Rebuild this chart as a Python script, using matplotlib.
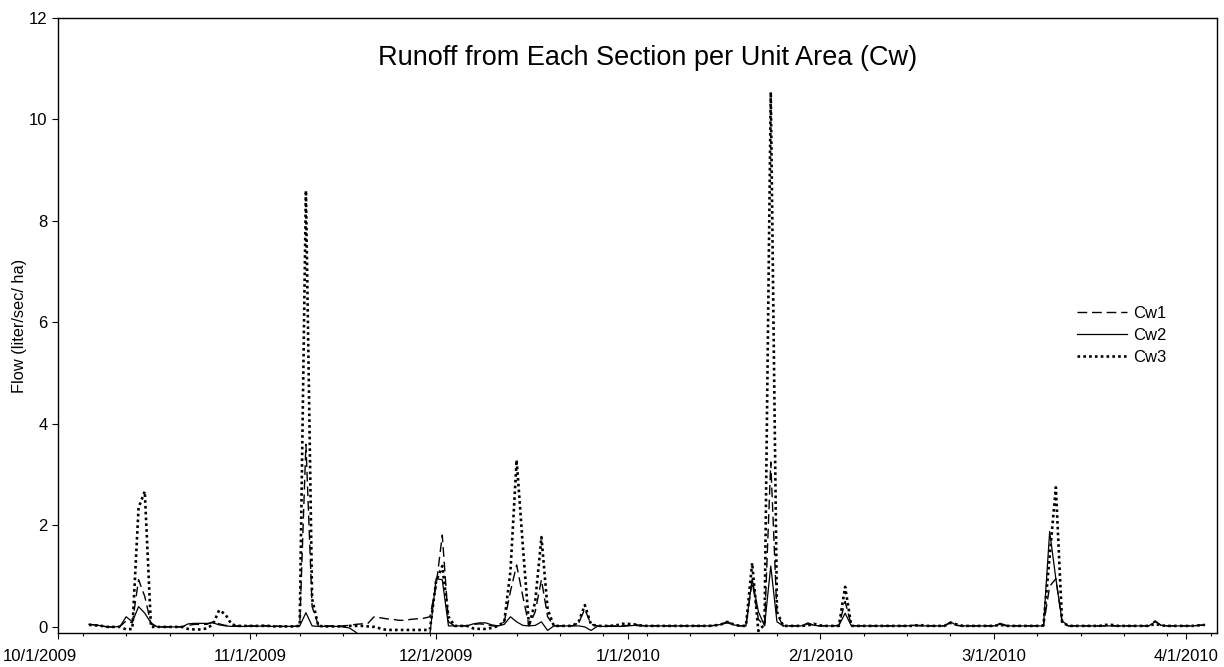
import datetime
import pandas as pd
import matplotlib
matplotlib.use('Agg')
import matplotlib.pyplot as plt
import matplotlib.dates as mdates
import matplotlib.transforms as mtransforms

# daily values, 10/6/2009 - 4/4/2010
start_date = '2009-10-06'
end_date = '2010-04-04'

cw1_oct = [0.05, 0.04, 0.02, 0.0, 0.0, 0.01, 0.12, 0.08, 0.93, 0.6, 0.06, 0.0, 0.0,
           0.0, 0.0, 0.0, 0.03, 0.05, 0.05, 0.05, 0.1, 0.06, 0.03, 0.02, 0.02, 0.01]
cw2_oct = [0.05, 0.04, 0.02, 0.0, 0.0, 0.01, 0.2, 0.1, 0.4, 0.27, 0.08, 0.0, 0.0,
           0.0, 0.0, 0.0, 0.06, 0.07, 0.07, 0.07, 0.08, 0.04, 0.02, 0.01, 0.01, 0.01]
cw3_oct = [0.04, 0.03, 0.02, 0.0, 0.0, 0.0, -0.05, -0.04, 2.35, 2.67, 0.0, 0.0, 0.0,
           0.0, 0.0, 0.0, -0.04, -0.05, -0.05, -0.03, 0.05, 0.33, 0.25, 0.05, 0.02, 0.02]

cw1_nov = [0.02, 0.02, 0.03, 0.02, 0.02, 0.01, 0.01, 0.01, 0.02, 3.6, 0.4, 0.03, 0.02, 0.02, 0.02,
           0.02, 0.03, 0.05, 0.06, 0.07, 0.2, 0.18, 0.16, 0.15, 0.13, 0.13, 0.15, 0.16, 0.17, 0.2]
cw2_nov = [0.02, 0.01, 0.02, 0.01, 0.01, 0.01, 0.01, 0.01, 0.02, 0.28, 0.02, 0.01, 0.01, 0.01, 0.01,
           0.0, -0.02, -0.1, -0.2, -0.2, -0.2, -0.2, -0.2, -0.2, -0.2, -0.2, -0.2, -0.2, -0.2, -0.15]
cw3_nov = [0.02, 0.02, 0.02, 0.02, 0.01, 0.01, 0.01, 0.01, 0.02, 8.6, 0.55, 0.02, 0.01, 0.01, 0.01,
           0.01, 0.02, 0.02, 0.02, 0.01, 0.0, -0.03, -0.06, -0.06, -0.06, -0.06, -0.06, -0.06, -0.06, -0.06]

cw1_dec = [0.8, 1.81, 0.1, 0.02, 0.02, 0.02, 0.05, 0.06, 0.05, 0.02, 0.02, 0.1, 0.7, 1.22, 0.6, 0.02,
           0.3, 0.93, 0.2, 0.02, 0.02, 0.02, 0.02, 0.08, 0.35, 0.05, 0.02, 0.02, 0.02, 0.02, 0.02]
cw2_dec = [0.95, 0.93, 0.02, 0.02, 0.02, 0.02, 0.06, 0.08, 0.08, 0.04, 0.02, 0.05, 0.2, 0.1, 0.03, 0.02,
           0.03, 0.1, -0.07, 0.02, 0.02, 0.02, 0.02, 0.02, 0.0, -0.07, 0.01, 0.01, 0.01, 0.01, 0.01]
cw3_dec = [0.9, 1.2, 0.2, 0.02, 0.02, 0.02, -0.03, -0.04, -0.04, -0.02, 0.02, 0.1, 1.1, 3.29, 1.6, 0.02,
           0.5, 1.77, 0.35, 0.02, 0.02, 0.02, 0.02, 0.1, 0.43, 0.05, 0.02, 0.02, 0.02, 0.03, 0.06]

cw1_jan = [0.03, 0.05, 0.03, 0.02, 0.02, 0.02, 0.02, 0.02, 0.02, 0.02, 0.02, 0.02, 0.02, 0.02, 0.03, 0.06,
           0.1, 0.05, 0.02, 0.03, 0.9, 0.15, 0.02, 3.25, 0.25, 0.02, 0.02, 0.02, 0.02, 0.06, 0.03]
cw2_jan = [0.02, 0.03, 0.02, 0.02, 0.02, 0.02, 0.02, 0.02, 0.02, 0.02, 0.02, 0.02, 0.02, 0.02, 0.03, 0.05,
           0.08, 0.04, 0.02, 0.02, 0.95, 0.3, 0.02, 1.2, 0.1, 0.02, 0.02, 0.02, 0.02, 0.08, 0.03]
cw3_jan = [0.06, 0.05, 0.03, 0.02, 0.02, 0.02, 0.02, 0.02, 0.02, 0.02, 0.02, 0.02, 0.02, 0.02, 0.03, 0.05,
           0.1, 0.05, 0.02, 0.02, 1.26, -0.08, 0.05, 10.54, 0.3, 0.02, 0.02, 0.02, 0.02, 0.03, 0.06]

cw1_feb = [0.02, 0.02, 0.02, 0.03, 0.5, 0.03, 0.02, 0.02, 0.02, 0.02, 0.02, 0.02, 0.02, 0.02,
           0.02, 0.03, 0.03, 0.02, 0.02, 0.02, 0.02, 0.08, 0.03, 0.02, 0.02, 0.02, 0.02, 0.02]
cw2_feb = [0.02, 0.02, 0.02, 0.03, 0.27, 0.02, 0.02, 0.02, 0.02, 0.02, 0.02, 0.02, 0.02, 0.02,
           0.02, 0.03, 0.02, 0.02, 0.02, 0.02, 0.02, 0.1, 0.03, 0.02, 0.02, 0.02, 0.02, 0.02]
cw3_feb = [0.03, 0.02, 0.02, 0.02, 0.79, 0.02, 0.02, 0.02, 0.02, 0.02, 0.02, 0.02, 0.02, 0.02,
           0.02, 0.02, 0.04, 0.02, 0.02, 0.02, 0.02, 0.08, 0.05, 0.02, 0.02, 0.02, 0.02, 0.02]

cw1_mar = [0.02, 0.07, 0.03, 0.02, 0.02, 0.02, 0.02, 0.02, 0.02, 0.8, 0.95, 0.1, 0.02, 0.02, 0.02, 0.02,
           0.02, 0.02, 0.02, 0.02, 0.02, 0.02, 0.02, 0.02, 0.02, 0.02, 0.12, 0.03, 0.02, 0.02, 0.02]
cw2_mar = [0.02, 0.05, 0.02, 0.02, 0.02, 0.02, 0.02, 0.02, 0.02, 1.88, 0.95, 0.12, 0.02, 0.02, 0.02, 0.02,
           0.02, 0.02, 0.02, 0.02, 0.02, 0.02, 0.02, 0.02, 0.02, 0.02, 0.1, 0.03, 0.02, 0.02, 0.02]
cw3_mar = [0.02, 0.04, 0.02, 0.02, 0.02, 0.02, 0.02, 0.02, 0.03, 1.4, 2.75, 0.1, 0.02, 0.02, 0.02, 0.02,
           0.02, 0.02, 0.04, 0.04, 0.02, 0.02, 0.02, 0.02, 0.02, 0.02, 0.06, 0.03, 0.02, 0.02, 0.02]

cw1_apr = [0.02, 0.02, 0.03, 0.04]
cw2_apr = [0.02, 0.02, 0.03, 0.04]
cw3_apr = [0.02, 0.02, 0.03, 0.04]

series_names = ['Cw1', 'Cw2', 'Cw3']
month_ticks = ['2009-10-01', '2009-11-01', '2009-12-01', '2010-01-01',
               '2010-02-01', '2010-03-01', '2010-04-01']
month_labels = ['10/1/2009', '11/1/2009', '12/1/2009', '1/1/2010',
                '2/1/2010', '3/1/2010', '4/1/2010']
y_ticks = [0, 2, 4, 6, 8, 10, 12]

plt.rcParams['font.family'] = ['Liberation Sans', 'DejaVu Sans']

dates = pd.date_range(start_date, end_date, freq='D')
cw1 = cw1_oct + cw1_nov + cw1_dec + cw1_jan + cw1_feb + cw1_mar + cw1_apr
cw2 = cw2_oct + cw2_nov + cw2_dec + cw2_jan + cw2_feb + cw2_mar + cw2_apr
cw3 = cw3_oct + cw3_nov + cw3_dec + cw3_jan + cw3_feb + cw3_mar + cw3_apr

fig = plt.figure(figsize=(12.24, 6.67), dpi=100)
ax = fig.add_axes([58 / 1224, 34 / 667, 1159 / 1224, 615 / 667])

ax.plot(dates, cw1, color='black', lw=1.0, linestyle=(0, (7, 3.5)), label=series_names[0])
ax.plot(dates, cw2, color='black', lw=0.9, linestyle='-', label=series_names[1])
ax.plot(dates, cw3, color='black', lw=1.9, linestyle=(0, (1, 1.2)), label=series_names[2])

ax.set_xlim(datetime.date(2009, 10, 1), datetime.date(2010, 4, 6))
ax.set_ylim(-0.12, 12)

ax.set_xticks(pd.to_datetime(month_ticks))
ax.set_xticklabels(month_labels)
ax.xaxis.set_minor_locator(mdates.WeekdayLocator(byweekday=mdates.MO))
ax.set_yticks(y_ticks)

ax.tick_params(axis='both', which='major', direction='out', length=4.5, width=0.8,
               labelsize=12, color='black')
ax.tick_params(axis='x', which='major', pad=7)
ax.tick_params(axis='y', which='major', pad=3)
ax.tick_params(axis='x', which='minor', direction='out', length=2.5, width=0.8)

# first label sits a bit left of its tick in the original
first = ax.get_xticklabels()[0]
first.set_transform(first.get_transform() + mtransforms.ScaledTranslation(-18 / 100, 0, fig.dpi_scale_trans))

for sp in ax.spines.values():
    sp.set_linewidth(1.0)
    sp.set_color('black')

ax.set_ylabel('Flow (liter/sec/ ha)', fontsize=11.8, labelpad=1.5)
ax.text(0.509, 0.935, 'Runoff from Each Section per Unit Area (Cw)', transform=ax.transAxes,
        ha='center', va='center', fontsize=19.5)

ax.legend(loc='upper left', bbox_to_anchor=(0.879, 0.532), frameon=False, fontsize=12,
          handlelength=3.0, handletextpad=0.4, labelspacing=0.42, borderpad=0, borderaxespad=0)

fig.savefig('out.png', dpi=100)
